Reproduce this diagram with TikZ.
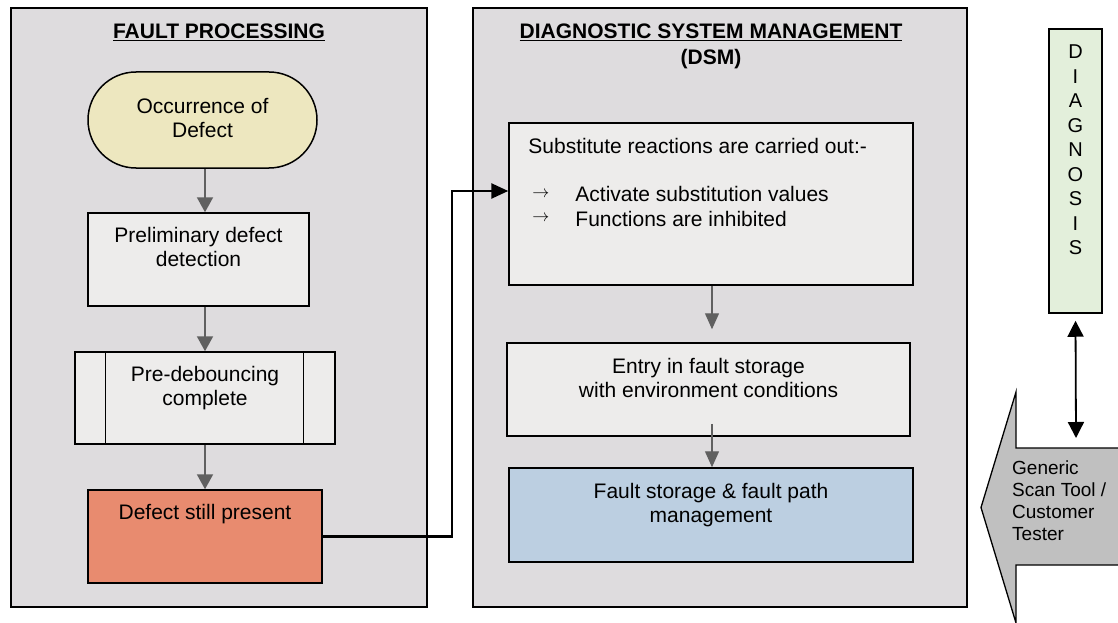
\documentclass[tikz,border=0pt]{standalone}
\usepackage{fontspec}
\setmainfont{Liberation Sans}
\usetikzlibrary{arrows.meta}

\definecolor{panelfill}{HTML}{DEDCDE}
\definecolor{boxfill}{HTML}{EDECEB}
\definecolor{startfill}{HTML}{EDE7BF}
\definecolor{alertfill}{HTML}{E88B6F}
\definecolor{storefill}{HTML}{BCCFE1}
\definecolor{diagfill}{HTML}{E3EFDB}
\definecolor{toolfill}{HTML}{C0C0C0}
\definecolor{flowgray}{HTML}{606060}

% multi-line text nodes are placed by the baseline of their last line
\tikzset{
  panel/.style={draw=black, line width=1.8pt, fill=panelfill, inner sep=0pt},
  stepbox/.style={draw=black, line width=1.5pt, fill=boxfill, inner sep=0pt},
  txt/.style={inner sep=0pt, anchor=base, align=center,
              font=\fontsize{21}{24}\selectfont},
  ltxt/.style={txt, anchor=base west, align=left},
  ttl/.style={inner sep=0pt, anchor=base, align=center,
              font=\fontsize{21}{26}\selectfont\bfseries},
  flow/.style={draw=flowgray, line width=2pt,
               -{Triangle[width=16pt,length=15pt]}},
  flowthin/.style={draw=flowgray, line width=1.3pt,
               -{Triangle[width=14pt,length=16pt]}},
  link/.style={draw=black, line width=2.6pt,
               -{Triangle[width=15pt,length=17pt]}},
  twoway/.style={draw=black, line width=1.8pt,
               {Triangle[width=16pt,length=16pt]}-{Triangle[width=16pt,length=16pt]}},
}
% list marker: a thin arrow, 17pt wide, centred on the capital height
\newcommand{\listarrow}{\raisebox{4.3pt}{\resizebox{17pt}{!}{$\rightarrow$}}}

\begin{document}
\begin{tikzpicture}[x=1pt,y=-1pt]
\useasboundingbox (0,0) rectangle (1118,623);
\clip (0,0) rectangle (1118,623);
\fill[white] (0,0) rectangle (1118,623);

% ---- fault processing column ----
\node[panel, minimum width=416pt, minimum height=599pt] (fp) at (219,307.5) {};
\node[ttl] (fptitle) at ([yshift=-31.5pt]fp.north) {\underline{FAULT PROCESSING}};

\node[stepbox, fill=startfill, rounded corners=48pt,
      minimum width=229pt, minimum height=96pt] (occ) at (202.5,120) {};
\node[txt] (occtxt) at ([yshift=-66.5pt]occ.north) {Occurrence of\\Defect};

\node[stepbox, minimum width=221pt, minimum height=93pt] (pre) at (198.5,259.5) {};
\node[txt] (pretxt) at ([yshift=-54.5pt]pre.north) {Preliminary defect\\detection};

\node[stepbox, minimum width=260pt, minimum height=92pt] (deb) at (205,398) {};
\draw[line width=1.2pt] ([xshift=31pt]deb.north west) -- ([xshift=31pt]deb.south west);
\draw[line width=1.2pt] ([xshift=-32pt]deb.north east) -- ([xshift=-32pt]deb.south east);
\node[txt] (debtxt) at ([yshift=-54.5pt]deb.north) {Pre-debouncing\\complete};

\node[stepbox, fill=alertfill, minimum width=234pt, minimum height=93pt] (dsp) at (205,536.5) {};
\node[txt] (dsptxt) at ([yshift=-30.5pt]dsp.north) {Defect still present};

\coordinate (lcol) at (205,0);
\draw[flow] (lcol |- occ.south) -- (lcol |- pre.north);
\draw[flow] (lcol |- pre.south) -- (lcol |- deb.north);
\draw[flow] (lcol |- deb.south) -- (lcol |- dsp.north);

% ---- diagnostic system management column ----
\node[panel, minimum width=494pt, minimum height=599pt] (dsm) at (720,307.5) {};
\node[ttl] (dsmtitle) at (711,64.5) {\underline{DIAGNOSTIC SYSTEM MANAGEMENT}\\(DSM)};

\node[stepbox, minimum width=404pt, minimum height=162pt] (sub) at (711,204) {};
\node[ltxt] (subtxt) at ([xshift=20pt,yshift=-31.5pt]sub.north west)
  {Substitute reactions are carried out:-};
\node[ltxt] (suba) at ([xshift=24pt,yshift=-79.5pt]sub.north west) {\listarrow};
\node[ltxt] (subb) at ([xshift=24pt,yshift=-104pt]sub.north west) {\listarrow};
\node[ltxt] (subatxt) at ([xshift=67pt,yshift=-79.5pt]sub.north west) {Activate substitution values};
\node[ltxt] (subbtxt) at ([xshift=67pt,yshift=-104pt]sub.north west) {Functions are inhibited};

\node[stepbox, minimum width=403pt, minimum height=93pt] (ent) at (708.5,389.5) {};
\node[txt] (enttxt) at ([yshift=-55.5pt]ent.north) {Entry in fault storage\\with environment conditions};

\node[stepbox, fill=storefill, minimum width=404pt, minimum height=94pt] (fsm) at (711,515) {};
\node[txt] (fsmtxt) at ([yshift=-55.5pt]fsm.north) {Fault storage \& fault path\\management};

\coordinate (rcol) at (712,0);
\draw[flowthin, shorten >=13pt] (rcol |- sub.south) -- (rcol |- ent.north);
\draw[flowthin] ([yshift=13pt]rcol |- ent.south) -- (rcol |- fsm.north);

% ---- link from fault processing into DSM ----
\coordinate (jog) at (452,191);
\draw[link] (dsp.east) -| (jog) -- (jog -| sub.west);

% ---- diagnosis and external tester ----
\node[stepbox, fill=diagfill, minimum width=53pt, minimum height=284pt] (diag) at (1075.5,171) {};
\node[txt, font=\fontsize{20}{24.5}\selectfont] (diagtxt) at ([yshift=-226.5pt]diag.north)
  {D\\I\\A\\G\\N\\O\\S\\I\\S};

\draw[line width=1.3pt, fill=toolfill]
  (1130,448) -- (1016,448) -- (1016,392) -- (981,507.5) -- (1016,623) -- (1016,565) -- (1130,565);
\coordinate (tool) at (1076,438);
\node[ltxt, font=\fontsize{19}{22}\selectfont] (tooltxt) at (1012,540.5)
  {Generic\\Scan Tool /\\Customer\\Tester};

\draw[twoway] ([yshift=-7pt]diag.south) -- (tool);
\end{tikzpicture}
\end{document}
